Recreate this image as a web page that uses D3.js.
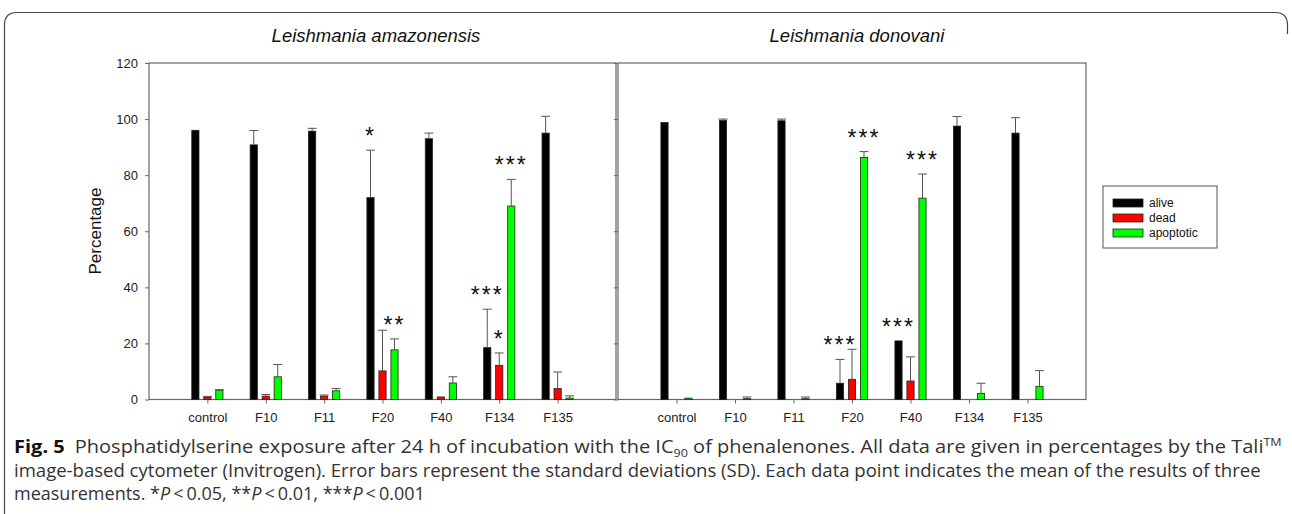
<!DOCTYPE html>
<html>
<head>
<meta charset="utf-8">
<script src="https://cdn.jsdelivr.net/npm/d3@7"></script>
<style>
  body { margin: 0; background: #fff; }
  svg text { font-family: "Liberation Sans", Arial, sans-serif; }
</style>
</head>
<body>
<div id="app"></div>
<script>
// data
const categories = ["control", "F10", "F11", "F20", "F40", "F134", "F135"];
const seriesNames = ["alive", "dead", "apoptotic"];
const seriesColors = ["#000000", "#ff0000", "#00ff00"];
const yTicks = [0, 20, 40, 60, 80, 100, 120];

// Leishmania amazonensis
const amazAlive = [96.0, 90.8, 95.7, 72.0, 93.0, 18.5, 95.0];
const amazAliveSD = [0, 5.1, 1.0, 16.9, 2.0, 13.7, 6.0];
const amazDead = [0.8, 1.2, 1.2, 10.2, 0.9, 12.2, 3.9];
const amazDeadSD = [0.3, 0.6, 0.4, 14.5, 0, 4.4, 5.9];
const amazApop = [3.3, 8.1, 3.1, 17.7, 5.9, 69.0, 0.5];
const amazApopSD = [0.2, 4.4, 0.8, 3.9, 2.2, 9.5, 0.8];
const amazStars = [
  { cat: "F20", s: "alive", t: "*" },
  { cat: "F20", s: "apoptotic", t: "**" },
  { cat: "F134", s: "alive", t: "***" },
  { cat: "F134", s: "dead", t: "*" },
  { cat: "F134", s: "apoptotic", t: "***" }
];

// Leishmania donovani
const donAlive = [98.8, 99.5, 99.4, 5.8, 20.9, 97.5, 95.0];
const donAliveSD = [0, 0.5, 0.6, 8.5, 0, 3.4, 5.5];
const donDead = [0, 0, 0, 7.2, 6.6, 0, 0];
const donDeadSD = [0, 0, 0, 10.7, 8.6, 0, 0];
const donApop = [0.5, 0.3, 0.3, 86.3, 71.8, 2.2, 4.7];
const donApopSD = [0, 0.6, 0.6, 2.1, 8.6, 3.6, 5.6];
const donStars = [
  { cat: "F20", s: "alive", t: "***" },
  { cat: "F20", s: "apoptotic", t: "***" },
  { cat: "F40", s: "alive", t: "***" },
  { cat: "F40", s: "apoptotic", t: "***" }
];

const W = 1292, H = 514;
const svg = d3.select("#app").append("svg")
  .attr("width", W)
  .attr("height", H);

// outer figure border (rounded top corners)
svg.append("path")
  .attr("d", "M4.5,514 L4.5,25 Q4.5,12.5 17,12.5 L1275,12.5 Q1287.5,12.5 1287.5,25 L1287.5,34")
  .attr("fill", "none")
  .attr("stroke", "#444")
  .attr("stroke-width", 1.2);

const y = d3.scaleLinear().domain([0, 120]).range([399.5, 63]);
const sub = d3.scaleBand().domain(seriesNames).range([-18, 18]).paddingInner(0.4).paddingOuter(0.2);
const color = d3.scaleOrdinal().domain(seriesNames).range(seriesColors);

function panel(x0, x1, title, titleX, alive, aliveSD, dead, deadSD, apop, apopSD, stars, showLabels) {
  const x = d3.scalePoint().domain(categories).range([x0, x1]).padding(1);
  const g = svg.append("g");

  const rows = [];
  const vals = [alive, dead, apop];
  const sds = [aliveSD, deadSD, apopSD];
  seriesNames.forEach((s, si) => {
    categories.forEach((c, ci) => {
      rows.push({ cat: c, s: s, v: vals[si][ci], sd: sds[si][ci] });
    });
  });

  // frame
  g.append("rect")
    .attr("x", x0).attr("y", y(120))
    .attr("width", x1 - x0).attr("height", y(0) - y(120))
    .attr("fill", "none")
    .attr("stroke", "#666")
    .attr("stroke-width", 1.2);

  // y axis
  const yAxis = d3.axisLeft(y).tickValues(yTicks).tickSize(4).tickPadding(7).tickSizeOuter(0);
  if (!showLabels) yAxis.tickFormat("");
  const ya = g.append("g")
    .attr("transform", `translate(${x0},0)`)
    .call(yAxis);
  ya.select(".domain").remove();
  ya.selectAll("line").attr("stroke", "#666");
  ya.selectAll("text").attr("font-size", 13).attr("fill", "#222").attr("font-family", "Liberation Sans, Arial, sans-serif");

  // x axis
  const xa = g.append("g")
    .attr("transform", `translate(0,${y(0)})`)
    .call(d3.axisBottom(x).tickSize(4).tickPadding(9).tickSizeOuter(0));
  xa.select(".domain").remove();
  xa.selectAll("line").attr("stroke", "#666");
  xa.selectAll("text").attr("font-size", 13).attr("fill", "#222").attr("font-family", "Liberation Sans, Arial, sans-serif");

  // bars
  g.selectAll(".bar")
    .data(rows.filter(d => d.v > 0))
    .enter()
    .append("rect")
    .attr("class", "bar")
    .attr("x", d => x(d.cat) + sub(d.s))
    .attr("y", d => y(d.v))
    .attr("width", sub.bandwidth())
    .attr("height", d => y(0) - y(d.v))
    .attr("fill", d => color(d.s))
    .attr("stroke", "#222")
    .attr("stroke-width", 0.8);

  // error bars (upper only)
  const eb = g.selectAll(".err")
    .data(rows.filter(d => d.sd > 0))
    .enter()
    .append("g")
    .attr("class", "err")
    .attr("stroke", "#555")
    .attr("stroke-width", 1);
  eb.append("line")
    .attr("x1", d => x(d.cat) + sub(d.s) + sub.bandwidth() / 2)
    .attr("x2", d => x(d.cat) + sub(d.s) + sub.bandwidth() / 2)
    .attr("y1", d => y(d.v))
    .attr("y2", d => y(d.v + d.sd));
  eb.append("line")
    .attr("x1", d => x(d.cat) + sub(d.s) + sub.bandwidth() / 2 - 4.5)
    .attr("x2", d => x(d.cat) + sub(d.s) + sub.bandwidth() / 2 + 4.5)
    .attr("y1", d => y(d.v + d.sd))
    .attr("y2", d => y(d.v + d.sd));

  // significance stars
  g.selectAll(".star")
    .data(stars)
    .enter()
    .append("text")
    .attr("class", "star")
    .attr("x", d => x(d.cat) + sub(d.s) + sub.bandwidth() / 2)
    .attr("y", d => {
      const r = rows.find(e => e.cat === d.cat && e.s === d.s);
      return y(r.v + r.sd) - 6;
    })
    .attr("text-anchor", "middle")
    .attr("font-size", 23)
    .attr("letter-spacing", 2)
    .attr("fill", "#111")
    .text(d => d.t);

  // title
  svg.append("text")
    .attr("x", titleX)
    .attr("y", 42)
    .attr("text-anchor", "middle")
    .attr("font-size", 18.5)
    .attr("font-style", "italic")
    .attr("fill", "#111")
    .text(title);
}

panel(149, 616, "Leishmania amazonensis", 376, amazAlive, amazAliveSD, amazDead, amazDeadSD, amazApop, amazApopSD, amazStars, true);
panel(618, 1086, "Leishmania donovani", 857, donAlive, donAliveSD, donDead, donDeadSD, donApop, donApopSD, donStars, false);

// y axis title
svg.append("text")
  .attr("transform", "translate(101,231) rotate(-90)")
  .attr("text-anchor", "middle")
  .attr("font-size", 17)
  .attr("fill", "#111")
  .text("Percentage");

// legend
const lg = svg.append("g").attr("transform", "translate(1103,186)");
lg.append("rect")
  .attr("width", 114).attr("height", 62)
  .attr("fill", "#fff").attr("stroke", "#555").attr("stroke-width", 1);
seriesNames.forEach((s, i) => {
  lg.append("rect")
    .attr("x", 10).attr("y", 13 + i * 15)
    .attr("width", 30).attr("height", 8)
    .attr("fill", seriesColors[i])
    .attr("stroke", "#222").attr("stroke-width", 0.8);
  lg.append("text")
    .attr("x", 46).attr("y", 21 + i * 15)
    .attr("font-size", 12)
    .attr("fill", "#111")
    .text(s);
});

// caption, squeezed to the width of the original lines
const capFont = "'Open Sans', 'Noto Sans', sans-serif";
function capLine(yy, targetW, build) {
  const gl = svg.append("g");
  const t = gl.append("text")
    .attr("x", 0).attr("y", 0)
    .attr("font-size", 17.5)
    .attr("fill", "#333")
    .style("font-family", capFont);
  build(t);
  const w = t.node().getBBox().width;
  gl.attr("transform", `translate(14,${yy}) scale(${targetW / w},1)`);
}
capLine(453, 1268, t => {
  t.append("tspan").attr("font-weight", "bold").attr("fill", "#111").text("Fig. 5");
  t.append("tspan").text("\u2002Phosphatidylserine exposure after 24 h of incubation with the IC");
  t.append("tspan").attr("font-size", 11).attr("dy", 4).text("90");
  t.append("tspan").attr("dy", -4).text(" of phenalenones. All data are given in percentages by the Tali");
  t.append("tspan").attr("font-size", 11).attr("dy", -7).text("TM");
});
capLine(477, 1248, t => {
  t.text("image-based cytometer (Invitrogen). Error bars represent the standard deviations (SD). Each data point indicates the mean of the results of three");
});
capLine(500, 411, t => {
  t.append("tspan").text("measurements. *");
  t.append("tspan").attr("font-style", "italic").text("P");
  t.append("tspan").text("\u2009<\u20090.05, **");
  t.append("tspan").attr("font-style", "italic").text("P");
  t.append("tspan").text("\u2009<\u20090.01, ***");
  t.append("tspan").attr("font-style", "italic").text("P");
  t.append("tspan").text("\u2009<\u20090.001");
});
</script>
</body>
</html>
